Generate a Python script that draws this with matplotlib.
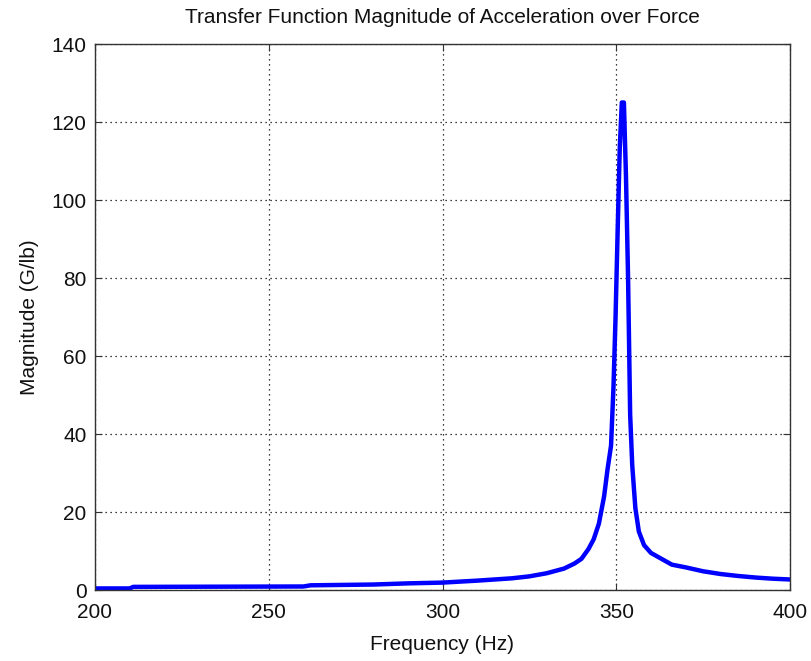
import matplotlib
matplotlib.use("Agg")
import matplotlib.pyplot as plt

freq = [200, 210, 211, 260, 262, 280, 290, 300, 310, 320, 325, 330, 335, 338,
        340, 342, 343.5, 345, 346.5, 347.5, 348.5, 349.2, 349.8, 350.4, 351.0,
        351.6, 352.2, 352.8, 353.4, 354.0, 354.6, 355.5, 356.5, 358, 360, 363,
        366, 370, 375, 380, 385, 390, 395, 400]
magnitude = [0.4, 0.4, 0.8, 0.9, 1.2, 1.4, 1.7, 1.9, 2.4, 3.0, 3.5, 4.3, 5.5, 6.8,
             8.0, 10.5, 13, 17, 24, 31, 37, 52, 70, 92, 113,
             125, 125, 106, 80, 45, 32, 21, 15, 11.5, 9.5, 8,
             6.5, 5.8, 4.8, 4.1, 3.6, 3.2, 2.9, 2.7]

xticks = [200, 250, 300, 350, 400]
yticks = [0, 20, 40, 60, 80, 100, 120, 140]

plt.rcParams['font.family'] = ['Liberation Sans', 'DejaVu Sans']
fig = plt.figure(figsize=(8.11, 6.61), dpi=100)
ax = fig.add_axes([95/811, 71/661, 695/811, 546/661])
ax.plot(freq, magnitude, color=(0, 0, 1), linewidth=3.2)
ax.set_xlim(200, 400)
ax.set_ylim(0, 140)
ax.set_xticks(xticks)
ax.set_yticks(yticks)
ax.grid(True, linestyle=(0, (1, 3)), color='black', linewidth=0.9)
ax.tick_params(direction='in', top=True, right=True, labelsize=15, length=5,
               color='#333333', labelcolor='#111111')
ax.tick_params(axis='x', pad=9)
ax.tick_params(axis='y', pad=6)
for s in ax.spines.values():
    s.set_color('#333333')
    s.set_linewidth(1.0)
ax.set_xlabel('Frequency (Hz)', fontsize=15, labelpad=10, color='#111111')
ax.set_ylabel('Magnitude (G/lb)', fontsize=15, labelpad=9, color='#111111')
ax.set_title('Transfer Function Magnitude of Acceleration over Force',
             fontsize=15, pad=15, color='#111111')
fig.savefig('out.png', dpi=100)
